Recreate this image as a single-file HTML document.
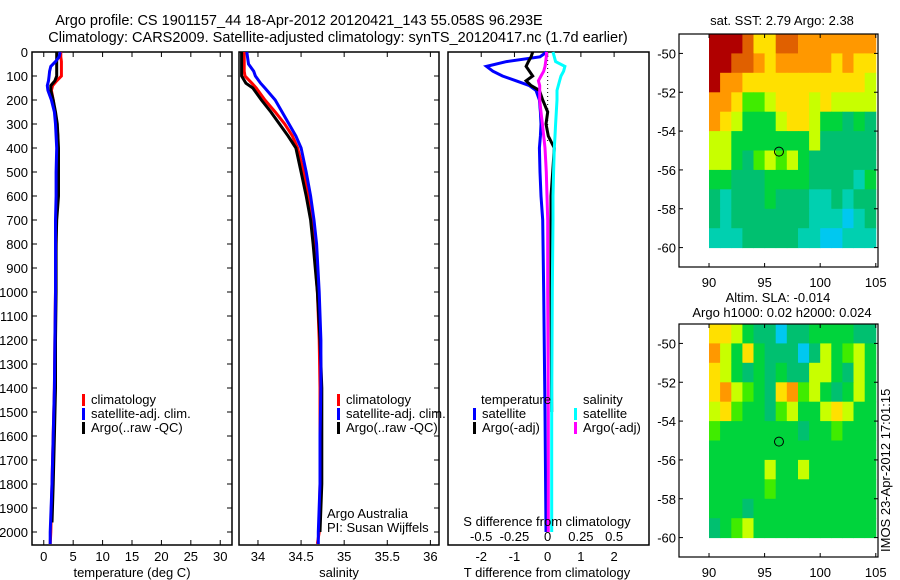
<!DOCTYPE html>
<html><head><meta charset="utf-8"><style>
html,body{margin:0;padding:0;background:#fff;}
svg{display:block;font-family:"Liberation Sans",sans-serif;}
text{font-size:13px;fill:#000;}
</style></head><body>
<svg id="fig" width="900" height="580" viewBox="0 0 900 580" xmlns="http://www.w3.org/2000/svg">
<text x="299" y="25" text-anchor="middle" style="font-size:14.5px">Argo profile: CS 1901157_44 18-Apr-2012 20120421_143 55.058S 96.293E</text>
<text x="338" y="42" text-anchor="middle" style="font-size:14.5px">Climatology: CARS2009. Satellite-adjusted climatology: synTS_20120417.nc (1.7d earlier)</text>
<g id="layer"></g>
</svg>
<script>
// ---- data ----
const tDepth=[0,20,40,60,80,100,120,140,160,200,250,300,350,400,500,600,700,800,1000,1200,1400,1600,1800,2000,2050];
const tClim=[2.9,2.9,3.0,3.0,3.0,3.0,2.2,1.5,1.3,1.6,1.9,2.2,2.4,2.4,2.3,2.2,2.1,2.1,2.0,1.9,1.8,1.6,1.4,1.2,1.1];
const tSat=[2.8,2.6,2.0,1.2,1.0,0.9,0.8,0.6,0.7,1.3,1.8,2.0,2.1,2.2,2.1,2.1,2.0,2.0,2.0,1.9,1.8,1.6,1.4,1.1,1.1];
const tArgoDepth=[0,20,40,60,80,100,120,140,160,200,250,300,350,400,500,600,700,800,1000,1200,1400,1600,1800,1960];
const tArgo=[2.2,2.2,2.2,2.2,2.2,2.2,1.9,1.2,1.2,1.6,2.0,2.3,2.4,2.5,2.5,2.5,2.2,2.1,2.1,2.0,2.0,1.8,1.6,1.4];
const sDepth=[0,50,80,100,130,150,200,250,300,350,400,500,600,700,800,1000,1200,1400,1600,1800,2000,2050];
const sClim=[33.84,33.84,33.84,33.85,33.93,33.98,34.08,34.2,34.31,34.4,34.46,34.53,34.58,34.62,34.65,34.69,34.71,34.72,34.72,34.72,34.71,34.69];
const sSat=[33.87,33.89,33.95,33.97,34.03,34.08,34.2,34.28,34.36,34.44,34.5,34.56,34.61,34.65,34.68,34.71,34.73,34.73,34.72,34.72,34.7,34.7];
const sArgoDepth=[0,50,80,100,130,150,200,250,300,350,400,500,600,700,800,1000,1200,1400,1600,1800,2000];
const sArgo=[33.81,33.81,33.81,33.81,33.86,33.94,34.04,34.15,34.25,34.35,34.44,34.5,34.56,34.61,34.64,34.69,34.72,34.74,34.74,34.74,34.72];
const dDepth=[0,20,40,60,80,100,120,140,160,200,250,300,350,400,500,600,700,1000,1500,2000];
const dTSat=[-0.03,-0.23,-1.24,-1.84,-1.65,-1.36,-0.95,-0.55,-0.35,-0.25,-0.22,-0.2,-0.22,-0.25,-0.23,-0.2,-0.15,-0.12,-0.08,-0.05];
const dTArgo=[-0.45,-0.5,-0.58,-0.65,-0.55,-0.45,-0.65,-0.5,-0.25,-0.15,0,-0.05,0.02,0.2,0.15,0.1,0.1,0.1,0.12,0.05];
const dSSat=[0.04,0.05,0.06,0.13,0.12,0.1,0.09,0.08,0.07,0.07,0.065,0.06,0.055,0.05,0.045,0.04,0.04,0.035,0.03,0.03];
const dSArgo=[-0.008,-0.01,-0.015,-0.02,-0.03,-0.05,-0.07,-0.06,-0.06,-0.06,-0.05,-0.04,-0.03,-0.02,-0.01,-0.005,0,0,0.005,0.005];
const depthTicks=[0,100,200,300,400,500,600,700,800,900,1000,1100,1200,1300,1400,1500,1600,1700,1800,1900,2000];
const tTicks=[0,5,10,15,20,25,30];
const sTicks=[34,34.5,35,35.5,36];
const sTickLabels=["34","34.5","35","35.5","36"];
const dTTicks=[-2,-1,0,1,2];
const dSTicks=[-0.5,-0.25,0,0.25,0.5];
const lonTicks=[90,95,100,105];
const latTicks=[-50,-52,-54,-56,-58,-60];
const sstGrid=[
[10,10,10,9,7,7,9,9,8,8,8,8,8,8,8],
[10,10,9,9,8,7,8,8,8,8,8,7,8,7,7],
[10,8,8,7,7,7,7,7,7,7,7,7,7,7,6],
[8,8,7,5,5,6,7,7,7,6,7,6,6,6,6],
[8,7,6,4,4,4,6,7,7,6,4,4,3,4,3],
[6,6,4,4,4,4,4,4,4,6,3,3,3,3,3],
[6,6,4,3,5,6,5,6,4,3,3,3,3,3,3],
[4,4,3,3,3,4,4,4,4,3,3,3,3,2,4],
[3,2,3,3,3,4,3,3,3,2,2,3,2,3,3],
[3,2,3,3,3,3,3,3,3,2,2,2,1,2,3],
[2,2,2,3,3,3,3,3,2,2,1,1,2,2,2]];
const slaGrid=[
[7,7,6,4,3,3,1,3,3,4,4,4,4,3,3],
[8,6,4,7,4,3,3,3,1,3,6,4,5,6,4],
[7,6,4,3,4,3,4,3,3,6,6,4,3,6,4],
[7,8,6,5,4,3,7,8,5,6,4,3,4,6,4],
[6,7,5,4,4,3,5,6,4,4,6,7,6,4,4],
[5,4,4,4,4,4,4,4,3,4,4,5,4,4,4],
[4,4,4,4,4,4,4,4,4,4,4,4,4,4,4],
[4,4,4,4,4,6,4,4,6,4,4,4,4,4,4],
[4,4,4,4,4,5,4,4,4,4,4,4,4,4,4],
[4,4,4,3,4,4,4,4,4,4,4,4,4,4,4],
[3,4,5,6,4,4,4,4,4,4,4,4,4,4,4]];
const palette=['#0050ff','#00c8f0','#00d0b0','#00c070','#00d43c','#40ec00','#c8ff00','#ffe000','#ff9800','#e06000','#b00000'];
const argoLon=96.293, argoLat=-55.058;

// ---- helpers ----
const NS='http://www.w3.org/2000/svg';
const L=document.getElementById('layer');
function mk(tag,attrs,parent){const e=document.createElementNS(NS,tag);for(const k in attrs)e.setAttribute(k,attrs[k]);(parent||L).appendChild(e);return e;}
function txt(x,y,s,anchor,parent){const t=mk('text',{x:x,y:y,'text-anchor':anchor||'start'},parent);t.textContent=s;return t;}
const yTop=52,yBot=545;
const yD=d=>yTop+d*0.24;
function lin(d0,d1,p0,p1){return v=>p0+(v-d0)*(p1-p0)/(d1-d0);}
const xT=lin(-2,32,32,232);
const xS=lin(33.78,36.1,239,439);
const xDT=lin(-3,3.05,448,649);
const xDS=v=>xDT(v*4);
function pathStep(xs,ds,xf){let p='';for(let i=0;i<xs.length;i++){p+=(i?'L':'M')+xf(xs[i]).toFixed(1)+','+yD(ds[i]).toFixed(1);}return p;}

function panel(x0,x1,name){
  const g=mk('g',{});
  
  
  mk('rect',{x:x0,y:yTop,width:x1-x0,height:yBot-yTop,fill:'none',stroke:'#000','stroke-width':1.5},g);
  return g;
}
function depthAxis(g,x0,x1,labels,leftTicks){
  depthTicks.forEach(d=>{
    const y=yD(d);
    if(leftTicks) mk('line',{x1:x0,x2:x0+5,y1:y,y2:y,stroke:'#000'},g);
    mk('line',{x1:x1,x2:x1-5,y1:y,y2:y,stroke:'#000'},g);
    if(labels){const t=txt(x0-4,y+5,String(d),'end',g);}
  });
}
function series(g,xs,ds,xf,color,name,w){
  const p=mk('path',{d:pathStep(xs,ds,xf),fill:'none',stroke:color,'stroke-width':w||3,'stroke-linejoin':'miter'},g);
  
  
}
function legend(g,x,y,items){
  items.forEach((it,i)=>{
    mk('rect',{x:x,y:y+i*14-10,width:3,height:12,fill:it[0]},g);
    const t=txt(x+9,y+i*14,it[1],'start',g);
    
    
  });
}

// ---- panel 1: temperature ----
const g1=panel(32,232,'temperature-panel');
depthAxis(g1,32,232,true,true);
tTicks.forEach(v=>{mk('line',{x1:xT(v),x2:xT(v),y1:yBot,y2:yBot-5,stroke:'#000'},g1);mk('line',{x1:xT(v),x2:xT(v),y1:yTop,y2:yTop+5,stroke:'#000'},g1);txt(xT(v),561,String(v),'middle',g1);});
series(g1,tClim,tDepth,xT,'#ff0000','temp-climatology-line');
series(g1,tArgo,tArgoDepth,xT,'#000000','temp-argo-line');
series(g1,tSat,tDepth,xT,'#0000ff','temp-satellite-line');
legend(g1,82,404,[['#ff0000','climatology'],['#0000ff','satellite-adj. clim.'],['#000000','Argo(..raw -QC)']]);
const xl1=txt(132,577,'temperature (deg C)','middle',g1);



// ---- panel 2: salinity ----
const g2=panel(239,439,'salinity-panel');
depthAxis(g2,239,439,false,false);
sTicks.forEach((v,i)=>{mk('line',{x1:xS(v),x2:xS(v),y1:yBot,y2:yBot-5,stroke:'#000'},g2);mk('line',{x1:xS(v),x2:xS(v),y1:yTop,y2:yTop+5,stroke:'#000'},g2);txt(xS(v),561,sTickLabels[i],'middle',g2);});
series(g2,sClim,sDepth,xS,'#ff0000','sal-climatology-line');
series(g2,sArgo,sArgoDepth,xS,'#000000','sal-argo-line');
series(g2,sSat,sDepth,xS,'#0000ff','sal-satellite-line');
legend(g2,337,404,[['#ff0000','climatology'],['#0000ff','satellite-adj. clim.'],['#000000','Argo(..raw -QC)']]);
txt(327,518,'Argo Australia','start',g2);
txt(327,532,'PI: Susan Wijffels','start',g2);
const xl2=txt(339,577,'salinity','middle',g2);



// ---- panel 3: differences ----
const g3=panel(448,649,'difference-panel');
dTTicks.forEach(v=>{mk('line',{x1:xDT(v),x2:xDT(v),y1:yTop,y2:yTop+5,stroke:'#000'},g3);txt(xDT(v),561,String(v),'middle',g3);});
dSTicks.forEach(v=>{txt(xDS(v),541,String(v),'middle',g3);});
mk('line',{x1:xDT(0),x2:xDT(0),y1:yTop,y2:yD(380),stroke:'#000','stroke-dasharray':'1,3'},g3);
series(g3,dTSat,dDepth,xDT,'#0000ff','dT-satellite-line');
series(g3,dTArgo,dDepth.slice(0,19),xDT,'#000000','dT-argo-line');
series(g3,dSSat,dDepth,xDS,'#00ffff','dS-satellite-line');
series(g3,dSArgo,dDepth,xDS,'#ff00ff','dS-argo-line');
txt(481,404,'temperature','start',g3);
legend(g3,473,418,[['#0000ff','satellite'],['#000000','Argo(-adj)']]);
txt(583,404,'salinity','start',g3);
legend(g3,574,418,[['#00ffff','satellite'],['#ff00ff','Argo(-adj)']]);
txt(547,526,'S difference from climatology','middle',g3);
const xl3=txt(547,577,'T difference from climatology','middle',g3);



// ---- maps ----
function map(top,grid,name){
  const g=mk('g',{});
  
  
  const bx0=679,bx1=878,by0=top,by1=top+233;
  const xL=lin(87.3,105.2,bx0,bx1), yL=lin(-49,-61,by0,by1);
  grid.forEach((row,r)=>row.forEach((c,k)=>{
    const cell=mk('rect',{x:xL(90+k).toFixed(1),y:yL(-49-r).toFixed(1),width:(xL(91)-xL(90)+0.5).toFixed(1),height:(yL(-60)-yL(-59)+0.5).toFixed(1),fill:palette[c]},g);
    
    
  }));
  mk('rect',{x:bx0,y:by0,width:bx1-bx0,height:by1-by0,fill:'none',stroke:'#000','stroke-width':1.2},g);
  lonTicks.forEach(v=>{mk('line',{x1:xL(v),x2:xL(v),y1:by1,y2:by1-4,stroke:'#000'},g);mk('line',{x1:xL(v),x2:xL(v),y1:by0,y2:by0+4,stroke:'#000'},g);txt(xL(v),by1+20,String(v),'middle',g);});
  latTicks.forEach(v=>{mk('line',{x1:bx0,x2:bx0+4,y1:yL(v),y2:yL(v),stroke:'#000'},g);mk('line',{x1:bx1,x2:bx1-4,y1:yL(v),y2:yL(v),stroke:'#000'},g);txt(bx0-3,yL(v)+5,String(v),'end',g);});
  const c=mk('circle',{cx:xL(argoLon),cy:yL(argoLat),r:4.5,fill:'none',stroke:'#000','stroke-width':1},g);
  
  
}
map(34,sstGrid,'sst-map');
map(324,slaGrid,'sla-map');
txt(782,25,'sat. SST: 2.79 Argo: 2.38','middle');
txt(778,302,'Altim. SLA: -0.014','middle');
txt(782,317,'Argo h1000: 0.02 h2000: 0.024','middle');
const im=txt(0,0,'IMOS 23-Apr-2012 17:01:15','start');
im.setAttribute('transform','translate(890,552) rotate(-90)');


</script>
</body></html>
